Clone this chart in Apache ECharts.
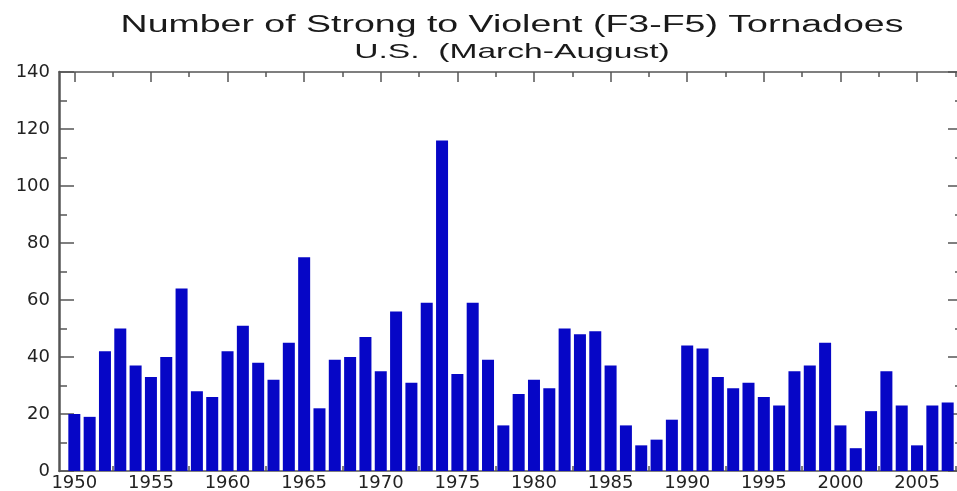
<!DOCTYPE html>
<html>
<head>
<meta charset="utf-8">
<script src="https://cdn.jsdelivr.net/npm/echarts@6/dist/echarts.min.js"></script>
<style>
html,body{margin:0;padding:0;background:#fff;}
#chart{width:957px;height:491px;}
</style>
</head>
<body>
<div id="chart"></div>
<script>
const years = [1950,1951,1952,1953,1954,1955,1956,1957,1958,1959,
  1960,1961,1962,1963,1964,1965,1966,1967,1968,1969,
  1970,1971,1972,1973,1974,1975,1976,1977,1978,1979,
  1980,1981,1982,1983,1984,1985,1986,1987,1988,1989,
  1990,1991,1992,1993,1994,1995,1996,1997,1998,1999,
  2000,2001,2002,2003,2004,2005,2006,2007];
const counts = [20,19,42,50,37,33,40,64,28,26,
  42,51,38,32,45,75,22,39,40,47,
  35,56,31,59,116,34,59,39,16,27,
  32,29,50,48,49,37,16,9,11,18,
  44,43,33,29,31,26,23,35,37,45,
  16,8,21,35,23,9,23,24];
const xLabelValues = [1950,1955,1960,1965,1970,1975,1980,1985,1990,1995,2000,2005];
const xMinorValues = [1952.5,1957.5,1962.5,1967.5,1972.5,1977.5,1982.5,1987.5,1992.5,1997.5,2002.5,2007.5];
const titleText = 'Number of Strong to Violent (F3-F5) Tornadoes';
const subtitleText = 'U.S.  (March-August)';

const chart = echarts.init(document.getElementById('chart'), null, {renderer:'canvas'});
const axisColor = '#555';
const labelStyle = {color:'#222', fontFamily:'"DejaVu Sans", sans-serif', fontSize:18};

function xAxisCfg(pos, ticks, len, showLine, showLabel) {
  return {
    type:'value', position:pos, min:1949, max:2008,
    axisLine:{show:showLine, onZero:false, lineStyle:{color:axisColor, width:1.5}},
    axisTick:{show:true, inside:true, length:len, customValues:ticks, lineStyle:{color:axisColor, width:1.5}},
    axisLabel:{show:showLabel, customValues:xLabelValues, formatter:v=>String(v), margin:3, ...labelStyle},
    splitLine:{show:false}
  };
}
function yAxisCfg(pos, showLabel) {
  return {
    type:'value', position:pos, min:0, max:140, interval:20,
    axisLine:{show:true, onZero:false, lineStyle:{color:axisColor, width:2.5}},
    axisTick:{show:true, inside:true, length:15, lineStyle:{color:axisColor, width:1.5}},
    minorTick:{show:true, splitNumber:2, length:8, lineStyle:{color:axisColor, width:1.5}},
    axisLabel:{show:showLabel, margin:9, ...labelStyle},
    splitLine:{show:false}
  };
}

const option = {
  backgroundColor:'#fff',
  animation:false,
  grid:{left:59, right:-6, top:72, bottom:20, containLabel:false, outerBoundsMode:'none'},
  graphic:[
    {type:'text', x:512, y:26, scaleX:1.63, z:10,
      style:{text:titleText, font:'23px "Liberation Sans", Arial, sans-serif', fill:'#1a1a1a', textAlign:'center', textVerticalAlign:'middle', verticalAlign:'middle'}},
    {type:'text', x:512, y:52, scaleX:1.6, z:10,
      style:{text:subtitleText, font:'21px "Liberation Sans", Arial, sans-serif', fill:'#1a1a1a', textAlign:'center', textVerticalAlign:'middle', verticalAlign:'middle'}}
  ],
  xAxis:[
    xAxisCfg('bottom', xLabelValues, 10, true, true),
    xAxisCfg('top', xLabelValues, 10, true, false),
    xAxisCfg('bottom', xMinorValues, 5, false, false),
    xAxisCfg('top', xMinorValues, 5, false, false)
  ],
  yAxis:[
    yAxisCfg('left', true),
    yAxisCfg('right', false)
  ],
  series:[{
    type:'bar', xAxisIndex:0, yAxisIndex:0,
    data: years.map((y,i)=>[y, counts[i]]),
    barWidth:12,
    itemStyle:{color:'#0606c6'}
  }]
};
chart.setOption(option);
</script>
</body>
</html>
